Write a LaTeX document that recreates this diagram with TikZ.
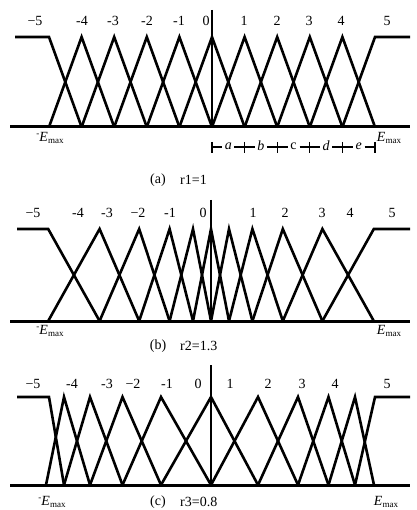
\documentclass[tikz,border=0pt]{standalone}
\usepackage{fontspec}
\setmainfont{Liberation Serif}
\newcommand\Emx{\textit{E}\raisebox{-0.35ex}{\fontsize{9}{9}\selectfont max}}
\newcommand\mEmx{\raisebox{0.7ex}{\fontsize{9}{9}\selectfont -}\Emx}
\begin{document}
\begin{tikzpicture}[x=1pt,y=-1pt,
  mf/.style={line width=2.6pt,line join=miter,line cap=butt},
  axisln/.style={line width=3pt},
  zaxis/.style={line width=2.2pt},
  lbl/.style={inner sep=0pt,font=\fontsize{14}{14}\selectfont},
  captxt/.style={inner sep=0pt,font=\fontsize{14}{14}\selectfont},
  emx/.style={inner sep=0pt,font=\fontsize{14}{14}\selectfont},
  brk/.style={line width=1.2pt}]
\useasboundingbox (0,0) rectangle (416,510);
\fill[white] (0,0) rectangle (416,510);

% ---------- panel (a) ----------
\def\T{37}\def\B{127}
\draw[axisln] (10,\B) -- (410,\B);
\draw[zaxis] (212,10) -- (212,\B);
\draw[mf] (15,\T) -- (49,\T) -- (81.6,\B);
\draw[mf] (342.4,\B) -- (375,\T) -- (410,\T);
\foreach \l/\m/\r in {49/81.6/114.2,81.6/114.2/146.8,114.2/146.8/179.4,146.8/179.4/212,179.4/212/244.6,212/244.6/277.2,244.6/277.2/309.8,277.2/309.8/342.4,309.8/342.4/375}
  \draw[mf] (\l,\B) -- (\m,\T) -- (\r,\B);
\foreach \x/\t [count=\i] in {35/−5,82/-4,113/-3,147/-2,179/-1,206/0,244/1,277/2,309/3,341/4,387/5}
  \node[lbl] (a\i) at (\x,21) {\t};
\node[emx] (aEl) at (50,138) {\mEmx};
\node[emx] (aEr) at (389,138) {\Emx};
% bracket
\foreach \x in {212,244.6,277.2,309.8,342.4,375}
  \draw[brk] (\x,142) -- (\x,153);
\foreach \l/\r/\t in {212/244.6/\textit{a},244.6/277.2/\textit{b},277.2/309.8/c,309.8/342.4/\textit{d},342.4/375/\textit{e}}{
  \draw[brk] (\l,147) -- ({(\l+\r)/2-6},147);
  \draw[brk] ({(\l+\r)/2+6},147) -- (\r,147);
  \node[lbl] at ({(\l+\r)/2},146) {\t};
}
\node[captxt] (acap) at (158,180) {(a)};
\node[captxt,anchor=west] (acap2) at (180,180) {r1=1};

% ---------- panel (b) ----------
\def\T{229}\def\B{321}
\draw[axisln] (10,\B) -- (410,\B);
\draw[zaxis] (211,200) -- (211,\B);
\draw[mf] (17,\T) -- (48.2,\T) -- (99.6,\B);
\draw[mf] (322.4,\B) -- (373.8,\T) -- (410,\T);
\foreach \l/\m/\r in {48.2/99.6/139.2,99.6/139.2/169.6,139.2/169.6/193,169.6/193/211,193/211/229,211/229/252.4,229/252.4/282.8,252.4/282.8/322.4,282.8/322.4/373.8}
  \draw[mf] (\l,\B) -- (\m,\T) -- (\r,\B);
\foreach \x/\t [count=\i] in {33/−5,78/-4,107/-3,138/−2,170/-1,203/0,253/1,285/2,322/3,350/4,392/5}
  \node[lbl] (b\i) at (\x,213) {\t};
\node[emx] (bEl) at (50,331) {\mEmx};
\node[emx] (bEr) at (389,331) {\Emx};
\node[captxt] (bcap) at (158,346) {(b)};
\node[captxt,anchor=west] (bcap2) at (180,346) {r2=1.3};

% ---------- panel (c) ----------
\def\T{397}\def\B{485}
\draw[axisln] (10,\B) -- (410,\B);
\draw[zaxis] (211,365) -- (211,\B);
\draw[mf] (17,\T) -- (49,\T) -- (64,\B);
\draw[mf] (355,\B) -- (375,\T) -- (410,\T);
\foreach \l/\m/\r in {46/64/90,64/90/122.5,90/122.5/161,122.5/161/211,161/211/258,211/258/298,258/298/328.5,298/328.5/355,328.5/355/374}
  \draw[mf] (\l,\B) -- (\m,\T) -- (\r,\B);
\foreach \x/\t [count=\i] in {33/−5,72/-4,107/-3,133/−2,167/-1,198/0,230/1,268/2,302/3,335/4,387/5}
  \node[lbl] (c\i) at (\x,384) {\t};
\node[emx] (cEl) at (52,502) {\mEmx};
\node[emx] (cEr) at (386,502) {\Emx};
\node[captxt] (ccap) at (158,502) {(c)};
\node[captxt,anchor=west] (ccap2) at (180,502) {r3=0.8};
\end{tikzpicture}
\end{document}
